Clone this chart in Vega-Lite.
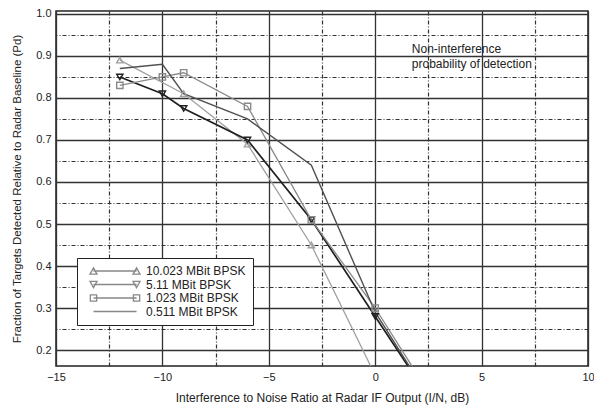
{
  "$schema": "https://vega.github.io/schema/vega-lite/v6.json",
  "width": 532,
  "height": 355,
  "autosize": {"type": "none"},
  "padding": {"left": 56, "top": 11, "right": 6, "bottom": 40},
  "background": "white",
  "config": {
    "font": "Liberation Sans",
    "view": {"stroke": "#222", "strokeWidth": 1.5},
    "axis": {
      "labelFont": "Liberation Sans", "titleFont": "Liberation Sans",
      "labelFontSize": 11, "titleFontSize": 12, "titleFontWeight": "normal",
      "labelColor": "#222", "titleColor": "#222",
      "ticks": false, "domain": false, "labelFlush": false,
      "gridColor": "#333333", "gridWidth": 1.3, "gridOpacity": 1
    },
    "legend": {
      "labelFont": "Liberation Sans", "labelFontSize": 12, "labelColor": "#222",
      "padding": 7, "strokeColor": "#222", "fillColor": "white",
      "symbolSize": 49, "labelOffset": 50, "rowPadding": 1.5, "symbolStrokeWidth": 1.3
    }
  },
  "datasets": {
    "curves": [
      {"series": "10.023 MBit BPSK", "x": -12, "y": 0.89},
      {"series": "10.023 MBit BPSK", "x": -9, "y": 0.81},
      {"series": "10.023 MBit BPSK", "x": -6, "y": 0.69},
      {"series": "10.023 MBit BPSK", "x": -3, "y": 0.45},
      {"series": "10.023 MBit BPSK", "x": 0, "y": 0.14},
      {"series": "5.11 MBit BPSK", "x": -12, "y": 0.85},
      {"series": "5.11 MBit BPSK", "x": -10, "y": 0.81},
      {"series": "5.11 MBit BPSK", "x": -9, "y": 0.775},
      {"series": "5.11 MBit BPSK", "x": -6, "y": 0.70},
      {"series": "5.11 MBit BPSK", "x": -3, "y": 0.51},
      {"series": "5.11 MBit BPSK", "x": 0, "y": 0.28},
      {"series": "5.11 MBit BPSK", "x": 3, "y": 0.05},
      {"series": "1.023 MBit BPSK", "x": -12, "y": 0.83},
      {"series": "1.023 MBit BPSK", "x": -10, "y": 0.85},
      {"series": "1.023 MBit BPSK", "x": -9, "y": 0.86},
      {"series": "1.023 MBit BPSK", "x": -6, "y": 0.78},
      {"series": "1.023 MBit BPSK", "x": -3, "y": 0.51},
      {"series": "1.023 MBit BPSK", "x": 0, "y": 0.30},
      {"series": "1.023 MBit BPSK", "x": 3, "y": 0.06},
      {"series": "0.511 MBit BPSK", "x": -12, "y": 0.87},
      {"series": "0.511 MBit BPSK", "x": -10, "y": 0.88},
      {"series": "0.511 MBit BPSK", "x": -9, "y": 0.81},
      {"series": "0.511 MBit BPSK", "x": -6, "y": 0.75},
      {"series": "0.511 MBit BPSK", "x": -3, "y": 0.64},
      {"series": "0.511 MBit BPSK", "x": 0, "y": 0.29},
      {"series": "0.511 MBit BPSK", "x": 3, "y": 0.05}
    ],
    "notes": [
      {"x": 1.72, "y": 0.917, "text": "Non-interference\nprobability of detection"}
    ]
  },
  "data": {"name": "curves"},
  "layer": [
    {
      "transform": [{"filter": "false"}],
      "mark": {"type": "point", "opacity": 0},
      "encoding": {
        "x": {"field": "x", "type": "quantitative", "scale": {"domain": [-15, 10], "nice": false, "zero": false},
          "axis": {"orient": "top", "values": [-12.5, -7.5, -2.5, 2.5, 7.5], "labels": false, "ticks": false, "domain": false, "title": null, "grid": true, "gridDash": [4, 2, 1, 2], "gridWidth": 1.2}},
        "y": {"field": "y", "type": "quantitative", "scale": {"domain": [0.162, 1.007], "nice": false, "zero": false},
          "axis": {"orient": "right", "values": [0.25, 0.35, 0.45, 0.55, 0.65, 0.75, 0.85, 0.95], "labels": false, "ticks": false, "domain": false, "title": null, "grid": true, "gridDash": [4, 2, 1, 2], "gridWidth": 1.2}}
      }
    },
    {
      "mark": {"type": "line", "clip": true},
      "encoding": {
        "x": {"field": "x", "type": "quantitative", "scale": {"domain": [-15, 10], "nice": false, "zero": false},
          "axis": {"orient": "bottom", "values": [-15, -10, -5, 0, 5, 10], "grid": true, "title": "Interference to Noise Ratio at Radar IF Output (I/N, dB)", "labelPadding": 5, "titlePadding": 10}},
        "y": {"field": "y", "type": "quantitative", "scale": {"domain": [0.162, 1.007], "nice": false, "zero": false},
          "axis": {"orient": "left", "values": [0.2, 0.3, 0.4, 0.5, 0.6, 0.7, 0.8, 0.9, 1.0], "format": ".1f", "grid": true, "title": "Fraction of Targets Detected Relative to Radar Baseline (Pd)", "titleFontSize": 11.5, "labelPadding": 5, "titlePadding": 13}},
        "color": {"field": "series", "type": "nominal", "legend": null,
          "scale": {"domain": ["10.023 MBit BPSK", "5.11 MBit BPSK", "1.023 MBit BPSK", "0.511 MBit BPSK"], "range": ["#a0a0a0", "#202020", "#8a8a8a", "#505050"]}},
        "strokeWidth": {"field": "series", "type": "nominal", "legend": null,
          "scale": {"type": "ordinal", "domain": ["10.023 MBit BPSK", "5.11 MBit BPSK", "1.023 MBit BPSK", "0.511 MBit BPSK"], "range": [1.3, 1.7, 1.3, 1.4]}},
        "order": {"field": "x", "type": "quantitative"}
      }
    },
    {
      "transform": [{"filter": "datum.series != '0.511 MBit BPSK'"}],
      "mark": {"type": "point", "filled": false, "clip": true, "size": 40, "strokeWidth": 1.4, "opacity": 1},
      "encoding": {
        "x": {"field": "x", "type": "quantitative", "axis": null, "scale": {"domain": [-15, 10], "nice": false, "zero": false}},
        "y": {"field": "y", "type": "quantitative", "axis": null, "scale": {"domain": [0.162, 1.007], "nice": false, "zero": false}},
        "color": {"field": "series", "type": "nominal", "legend": null},
        "shape": {"field": "series", "type": "nominal", "legend": null,
          "scale": {"domain": ["10.023 MBit BPSK", "5.11 MBit BPSK", "1.023 MBit BPSK"], "range": ["triangle-up", "triangle-down", "square"]}}
      }
    },
    {
      "transform": [{"filter": "false"}],
      "mark": {"type": "point", "filled": false, "strokeWidth": 1.3, "opacity": 1},
      "encoding": {
        "x": {"field": "x", "type": "quantitative", "axis": null},
        "y": {"field": "y", "type": "quantitative", "axis": null},
        "color": {"field": "series", "type": "nominal",
          "legend": {"title": null, "orient": "none", "legendX": 21, "legendY": 247}},
        "shape": {"field": "series", "type": "nominal",
          "legend": {"title": null, "orient": "none", "legendX": 21, "legendY": 247},
          "scale": {"domain": ["10.023 MBit BPSK", "5.11 MBit BPSK", "1.023 MBit BPSK", "0.511 MBit BPSK"],
            "range": [
              "M1,0L13.3,0M0,0.9L1,-0.9L2,0.9ZM12.3,0.9L13.3,-0.9L14.3,0.9Z",
              "M1,0L13.3,0M0,-0.9L1,0.9L2,-0.9ZM12.3,-0.9L13.3,0.9L14.3,-0.9Z",
              "M1,0L13.3,0M0.1,-0.9L1.9,-0.9L1.9,0.9L0.1,0.9ZM12.4,-0.9L14.2,-0.9L14.2,0.9L12.4,0.9Z",
              "M1,0L13.3,0"
            ]}}
      }
    },
    {
      "data": {"name": "notes"},
      "mark": {"type": "text", "align": "left", "baseline": "middle", "lineBreak": "\n", "lineHeight": 15, "fontSize": 12, "font": "Liberation Sans", "color": "#222"},
      "encoding": {
        "x": {"field": "x", "type": "quantitative", "axis": null},
        "y": {"field": "y", "type": "quantitative", "axis": null},
        "text": {"field": "text"}
      }
    }
  ],
  "resolve": {"scale": {"shape": "independent"}, "axis": {"x": "independent", "y": "independent"}}
}
